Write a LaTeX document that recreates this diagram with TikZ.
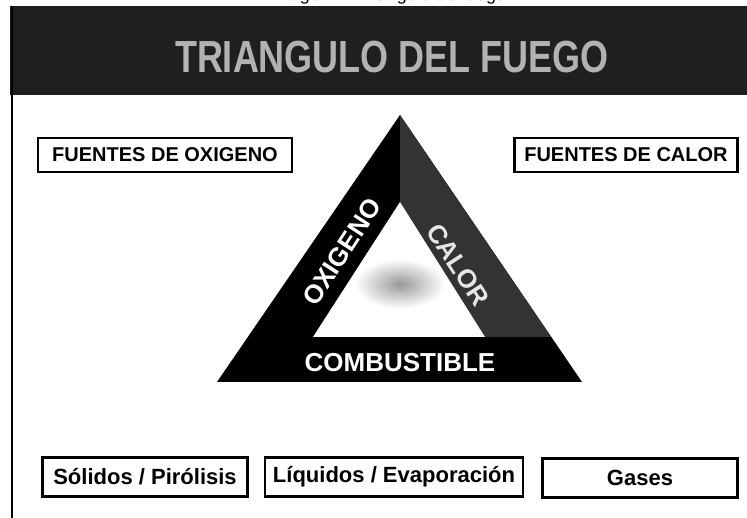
\documentclass[tikz,border=0pt]{standalone}
\usepackage{fontspec}
\setmainfont{Liberation Sans}
\begin{document}
\begin{tikzpicture}[x=1pt, y=-1pt,
  fuente/.style={draw, line width=2.4pt, inner sep=0pt, minimum height=34pt, font=\bfseries\fontsize{20}{22}\selectfont},
  estado/.style={draw, line width=2.4pt, inner sep=0pt, minimum height=39pt, font=\bfseries\fontsize{22}{24}\selectfont},
  lado/.style={text=white, inner sep=0pt, font=\bfseries\fontsize{26}{28}\selectfont}]
\useasboundingbox (0,0) rectangle (747,518);
\clip (0,0) rectangle (747,518);

% cabecera
\fill[black!88] (10,6) rectangle (747,95);
\node[text=black!30, font=\bfseries\fontsize{36}{40}\selectfont, yscale=1.25] (titulo) at (392,57) {TRIANGULO DEL FUEGO};
\node[anchor=base, font=\fontsize{18}{20}\selectfont] (pie) at (388,1) {Imagen 2. Triángulo de fuego};
\draw[line width=2.5pt] (12,6) -- (12,518);

% triangulo
\fill (400,115) -- (582,382) -- (217,382) -- cycle;
\fill[black!80] (400,115) -- (551,337) -- (485,337) -- (400,202) -- cycle;
\fill[white] (400,202) -- (485,337) -- (313,337) -- cycle;
\shade[inner color=black!40, outer color=white] (400,284) ellipse (45 and 25);

\node[lado, rotate=57] (oxigeno) at (342,252) {OXIGENO};
\node[lado, rotate=-57, text=black!10] (calor) at (458,265) {CALOR};
\node[lado] (combustible) at (400,363) {COMBUSTIBLE};

% fuentes
\node[fuente, minimum width=254pt] (oxi) at (165,155) {FUENTES DE OXIGENO};
\node[fuente, minimum width=223pt] (cal) at (626,155) {FUENTES DE CALOR};

% estados del combustible
\node[estado, minimum width=205pt] (solidos) at (145,477) {Sólidos / Pirólisis};
\node[estado, minimum width=258pt] (liquidos) at (394,477) {Líquidos / Evaporación};
\node[estado, minimum width=195pt] (gases) at (640,478) {Gases};
\end{tikzpicture}
\end{document}
